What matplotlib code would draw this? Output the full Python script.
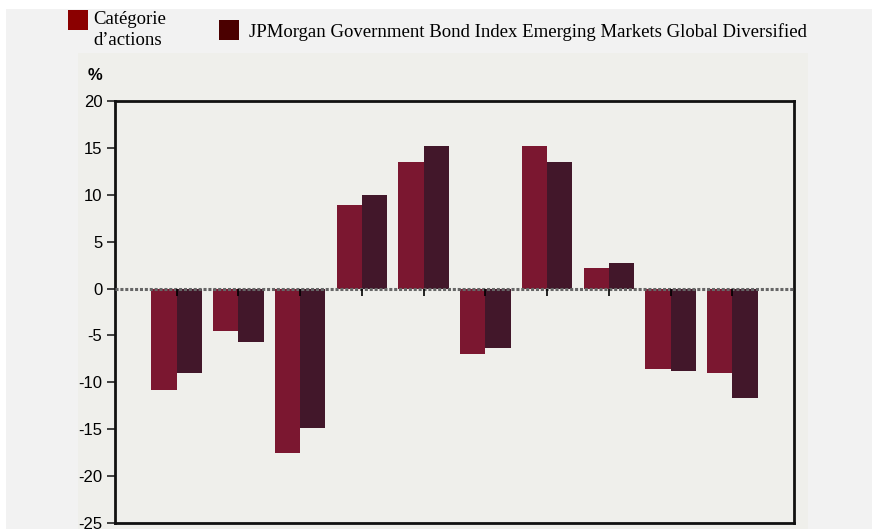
import numpy as np
import matplotlib
matplotlib.use("Agg")
import matplotlib.pyplot as plt
from matplotlib import font_manager
from matplotlib.patches import Rectangle

# values (%)
groups = list(range(10))
categorie = [-10.8, -4.5, -17.5, 8.9, 13.5, -7.0, 15.2, 2.2, -8.6, -9.0]
indice = [-9.0, -5.7, -14.9, 10.0, 15.2, -6.3, 13.5, 2.7, -8.8, -11.7]
yticks = [-25, -20, -15, -10, -5, 0, 5, 10, 15, 20]
legend_labels = ["Catégorie\nd\u2019actions",
                 "JPMorgan Government Bond Index Emerging Markets Global Diversified"]

names = {f.name for f in font_manager.fontManager.ttflist}
narrow = "Liberation Sans Narrow" if "Liberation Sans Narrow" in names else "Liberation Sans"

W, H = 872, 529
fig = plt.figure(figsize=(W / 100, H / 100), dpi=100)
fig.patch.set_facecolor("white")

# background panels
fig.patches.append(Rectangle((6 / W, 0), 1 - 6 / W, 1 - 9 / H, transform=fig.transFigure,
                             facecolor="#f2f2f2", edgecolor="none", zorder=-3))
fig.patches.append(Rectangle((78 / W, 0), (808 - 78) / W, 1 - 53 / H, transform=fig.transFigure,
                             facecolor="#efefeb", edgecolor="none", zorder=-2))

ax = fig.add_axes([115 / W, 1 - 523 / H, (794 - 115) / W, (523 - 101) / H])
ax.set_facecolor("#efefeb")

x = np.array(groups)
w = 0.41
ax.bar(x - w / 2, categorie, w, color="#7b1730", zorder=2)
ax.bar(x + w / 2, indice, w, color="#42172a", zorder=2)

ax.axhline(0, color="#666666", lw=2.2, ls=(0, (1, 0.6)), zorder=3)
ax.vlines(x, -0.75, 0, color="black", lw=1.2, zorder=4)

ax.set_xlim(-1, 10)
ax.set_ylim(-25, 20)
ax.set_xticks([])
ax.set_yticks(yticks)
ax.set_yticklabels([str(t) for t in yticks], fontfamily=narrow, fontsize=12)
ax.tick_params(axis="y", length=6, width=1.2, pad=3, color="#222222")
for s in ax.spines.values():
    s.set_linewidth(2)
    s.set_color("#111111")

fig.text(88 / W, 1 - 75 / H, "%", fontfamily=narrow, fontsize=12, fontweight="bold",
         ha="left", va="center")

# legend
fig.patches.append(Rectangle((68 / W, 1 - 30 / H), 20 / W, 20 / H, transform=fig.transFigure,
                             facecolor="#8b0000", edgecolor="none"))
fig.text(93 / W, 1 - 11 / H, legend_labels[0], fontfamily="Liberation Serif", fontsize=13.5,
         ha="left", va="top", linespacing=1.3)
fig.patches.append(Rectangle((219 / W, 1 - 40 / H), 20 / W, 20 / H, transform=fig.transFigure,
                             facecolor="#4b0000", edgecolor="none"))
fig.text(249 / W, 1 - 32 / H, legend_labels[1], fontfamily="Liberation Serif", fontsize=13.5,
         ha="left", va="center")

fig.savefig("out.png", dpi=100)
